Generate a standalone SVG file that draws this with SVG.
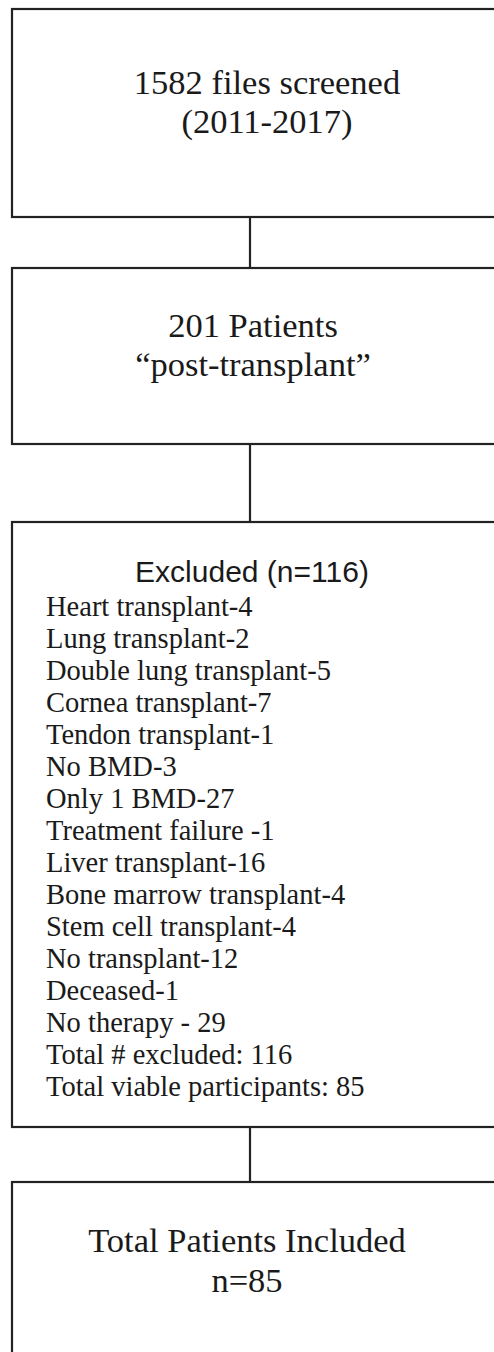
<svg xmlns="http://www.w3.org/2000/svg" width="494" height="1352" viewBox="0 0 494 1352">
<style>
.box{fill:#fff;stroke:#222;stroke-width:2.2}
.ser{font-family:"Liberation Serif","Times New Roman",serif;fill:#1a1a1a}
.big{font-size:34.5px;text-anchor:middle}
.item{font-size:28.5px}
.head{font-family:"Liberation Sans",Arial,sans-serif;font-size:30px;fill:#1a1a1a;text-anchor:middle}
.conn{stroke:#222;stroke-width:2.2;fill:none}
</style>
<rect width="494" height="1352" fill="#fff"/>
<g id="connectors">
<line class="conn" x1="250" y1="217" x2="250" y2="268"/>
<line class="conn" x1="250" y1="444" x2="250" y2="522"/>
<line class="conn" x1="250" y1="1127" x2="250" y2="1182"/>
</g>
<g id="node-screened">
<rect class="box" x="12" y="9" width="520" height="208"/>
<text class="ser big" x="267" y="94">1582 files screened</text>
<text class="ser big" x="267" y="133">(2011-2017)</text>
</g>
<g id="node-patients">
<rect class="box" x="12" y="268" width="520" height="176"/>
<text class="ser big" x="253" y="337">201 Patients</text>
<text class="ser big" x="253" y="376">“post-transplant”</text>
</g>
<g id="node-excluded">
<rect class="box" x="12" y="522" width="520" height="605"/>
<text class="head" x="252" y="582">Excluded (n=116)</text>
<text class="ser item" x="46" y="616">Heart transplant-4</text>
<text class="ser item" x="46" y="648">Lung transplant-2</text>
<text class="ser item" x="46" y="680">Double lung transplant-5</text>
<text class="ser item" x="46" y="712">Cornea transplant-7</text>
<text class="ser item" x="46" y="744">Tendon transplant-1</text>
<text class="ser item" x="46" y="776">No BMD-3</text>
<text class="ser item" x="46" y="808">Only 1 BMD-27</text>
<text class="ser item" x="46" y="840">Treatment failure -1</text>
<text class="ser item" x="46" y="872">Liver transplant-16</text>
<text class="ser item" x="46" y="904">Bone marrow transplant-4</text>
<text class="ser item" x="46" y="936">Stem cell transplant-4</text>
<text class="ser item" x="46" y="968">No transplant-12</text>
<text class="ser item" x="46" y="1000">Deceased-1</text>
<text class="ser item" x="46" y="1032">No therapy - 29</text>
<text class="ser item" x="46" y="1064">Total # excluded: 116</text>
<text class="ser item" x="46" y="1096">Total viable participants: 85</text>
</g>
<g id="node-included">
<rect class="box" x="12" y="1182" width="520" height="200"/>
<text class="ser big" x="247" y="1252">Total Patients Included</text>
<text class="ser big" x="247" y="1292">n=85</text>
</g>
</svg>
